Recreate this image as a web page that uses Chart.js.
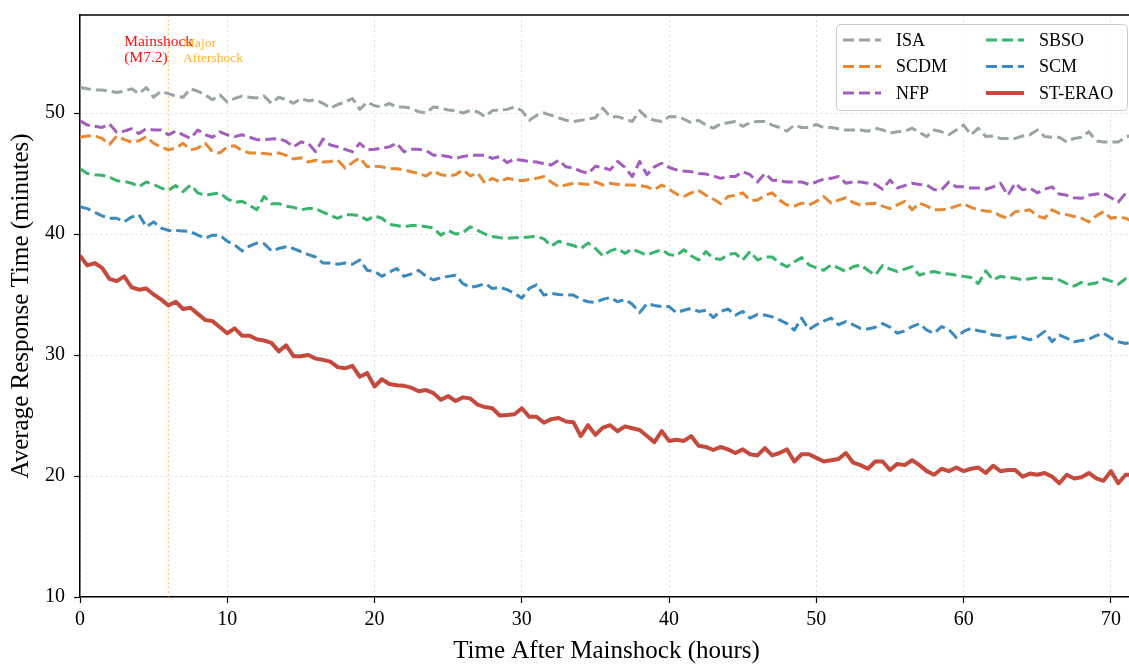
<!DOCTYPE html>
<html>
<head>
<meta charset="utf-8">
<script src="https://cdn.jsdelivr.net/npm/chart.js@4.4.0/dist/chart.umd.min.js"></script>
<style>
  html, body { margin: 0; padding: 0; background: #fff; overflow: hidden; }
  #wrap { width: 1133px; height: 664px; position: relative; }
</style>
</head>
<body>
<div id="wrap"><canvas id="responseChart"></canvas></div>
<script>
// ============================================================
// Average response time after the mainshock, 6 strategies
// ============================================================

const hours = [
  0, 0.5, 1, 1.5, 2, 2.5, 3, 3.5, 4, 4.5, 5, 5.5,
  6, 6.5, 7, 7.5, 8, 8.5, 9, 9.5, 10, 10.5, 11, 11.5,
  12, 12.5, 13, 13.5, 14, 14.5, 15, 15.5, 16, 16.5, 17, 17.5,
  18, 18.5, 19, 19.5, 20, 20.5, 21, 21.5, 22, 22.5, 23, 23.5,
  24, 24.5, 25, 25.5, 26, 26.5, 27, 27.5, 28, 28.5, 29, 29.5,
  30, 30.5, 31, 31.5, 32, 32.5, 33, 33.5, 34, 34.5, 35, 35.5,
  36, 36.5, 37, 37.5, 38, 38.5, 39, 39.5, 40, 40.5, 41, 41.5,
  42, 42.5, 43, 43.5, 44, 44.5, 45, 45.5, 46, 46.5, 47, 47.5,
  48, 48.5, 49, 49.5, 50, 50.5, 51, 51.5, 52, 52.5, 53, 53.5,
  54, 54.5, 55, 55.5, 56, 56.5, 57, 57.5, 58, 58.5, 59, 59.5,
  60, 60.5, 61, 61.5, 62, 62.5, 63, 63.5, 64, 64.5, 65, 65.5,
  66, 66.5, 67, 67.5, 68, 68.5, 69, 69.5, 70, 70.5, 71, 71.5,
];

const isa = [
  52.1, 52.0, 51.9, 51.9, 51.8, 51.7, 51.8, 52.0, 51.6, 52.1,
  51.3, 51.8, 51.6, 51.4, 51.3, 52.0, 51.8, 51.5, 51.1, 51.5,
  50.9, 51.2, 51.4, 51.3, 51.25, 51.4, 50.8, 51.3, 51.1, 50.8,
  51.2, 51.0, 51.1, 50.8, 50.4, 50.7, 50.9, 51.2, 50.3, 50.9,
  50.6, 50.5, 50.8, 50.5, 50.5, 50.4, 50.1, 50.0, 50.5, 50.4,
  50.25, 50.2, 50.0, 50.2, 50.1, 49.7, 50.2, 50.25, 50.3, 50.5,
  50.2, 49.4, 49.8, 50.0, 49.8, 49.6, 49.4, 49.3, 49.4, 49.5,
  49.6, 50.4, 49.7, 49.7, 49.5, 49.3, 50.2, 49.6, 49.4, 49.3,
  49.7, 49.7, 49.5, 49.2, 49.4, 49.0, 48.75, 49.1, 49.2, 49.3,
  48.9, 49.2, 49.3, 49.3, 49.0, 48.8, 48.5, 49.0, 48.8, 48.8,
  49.05, 48.8, 48.8, 48.7, 48.6, 48.6, 48.6, 48.5, 48.75, 48.6,
  48.35, 48.45, 48.5, 48.75, 48.4, 48.05, 48.6, 48.45, 48.2, 48.6,
  49.0, 48.2, 48.75, 48.05, 48.1, 47.9, 47.9, 47.9, 48.1, 48.2,
  48.6, 48.05, 48.0, 48.0, 47.6, 47.9, 48.0, 48.45, 47.7, 47.6,
  47.6, 47.6, 48.0, 48.2,
];

const scdm = [
  48.0, 48.1, 48.1, 47.9, 47.4, 48.1, 47.8, 47.6, 47.7, 48.05,
  47.5, 47.2, 46.95, 47.1, 47.5, 46.95, 47.1, 47.5, 46.8, 46.7,
  47.2, 47.3, 46.9, 46.7, 46.7, 46.65, 46.6, 46.7, 46.5, 46.2,
  46.3, 45.95, 46.1, 45.95, 46.0, 46.1, 45.45, 45.9, 46.3, 45.55,
  45.6, 45.55, 45.4, 45.4, 45.3, 45.15, 45.0, 44.8, 45.2, 44.9,
  44.8, 44.9, 45.3, 44.8, 45.05, 44.2, 44.6, 44.3, 44.6, 44.5,
  44.4, 44.5, 44.6, 44.75, 44.3, 43.9, 44.05, 44.2, 44.15, 44.1,
  44.3, 44.05, 44.2, 44.1, 44.05, 44.05, 44.0, 43.9, 43.65, 44.05,
  43.7, 43.3, 43.1, 43.4, 43.6, 43.2, 42.9, 42.5, 43.1, 43.2,
  43.4, 42.8, 42.8, 43.2, 43.4, 42.8, 42.4, 42.3, 42.55, 42.4,
  42.7, 43.1, 42.55, 42.8, 43.0, 42.6, 42.4, 42.5, 42.55, 42.3,
  42.1, 42.4, 42.7, 42.0, 42.55, 42.3, 42.0, 42.0, 42.1, 42.3,
  42.5, 42.2, 42.0, 41.9, 41.85, 41.5, 41.3, 41.85, 41.9, 42.0,
  41.5, 41.3, 42.0, 41.7, 41.6, 41.45, 41.3, 41.0, 41.5, 41.85,
  41.3, 41.4, 41.3, 41.0,
];

const nfp = [
  49.35, 49.0, 48.9, 48.8, 49.1, 48.4, 48.5, 48.7, 48.3, 48.7,
  48.6, 48.6, 48.2, 48.5, 48.2, 47.9, 48.6, 48.2, 48.0, 48.45,
  48.2, 48.05, 48.2, 48.0, 47.8, 47.8, 47.85, 47.9, 47.65, 47.2,
  47.6, 47.5, 46.8, 47.85, 47.35, 47.2, 47.0, 46.8, 47.5, 46.95,
  47.0, 47.1, 47.2, 47.5, 46.8, 47.0, 47.0, 46.9, 46.5, 46.5,
  46.4, 46.25, 46.4, 46.5, 46.5, 46.5, 46.25, 46.4, 45.9, 46.2,
  46.1, 46.0, 45.95, 45.8, 45.7, 46.1, 45.55, 45.45, 45.2, 45.0,
  45.6, 45.5, 45.3, 46.0, 45.5, 44.75, 46.0, 44.9, 45.55, 45.85,
  45.5, 45.3, 45.2, 45.15, 45.0, 44.95, 44.8, 44.6, 44.75, 44.75,
  45.15, 44.9, 44.3, 45.0, 44.45, 44.4, 44.3, 44.3, 44.3, 44.1,
  44.3, 44.55, 44.6, 44.75, 44.2, 44.3, 44.3, 44.2, 44.1, 43.7,
  44.45, 43.8, 44.0, 44.2, 44.1, 44.05, 43.65, 43.65, 44.3, 43.9,
  43.9, 43.8, 43.8, 43.7, 43.9, 44.2, 43.2, 44.2, 43.65, 43.8,
  43.4, 43.7, 43.9, 43.3, 43.2, 43.0, 42.95, 43.2, 43.3, 43.35,
  43.0, 42.65, 43.35, 43.4,
];

const sbso = [
  45.4, 45.0, 44.9, 44.85, 44.7, 44.4, 44.35, 44.2, 43.9, 44.3,
  44.1, 43.8, 43.6, 44.0, 43.5, 44.05, 43.4, 43.2, 43.3, 43.4,
  42.9, 42.6, 42.7, 42.4, 42.0, 43.1, 42.5, 42.5, 42.3, 42.2,
  42.0, 42.1, 42.1, 41.8, 41.55, 41.3, 41.6, 41.6, 41.5, 41.15,
  41.5, 41.3, 40.8, 40.7, 40.6, 40.7, 40.7, 40.6, 40.5, 39.9,
  40.3, 40.0, 40.1, 40.6, 40.3, 40.0, 39.8, 39.7, 39.65, 39.7,
  39.7, 39.75, 39.8, 39.6, 39.0, 39.4, 39.2, 39.05, 38.8, 39.25,
  38.8, 38.2, 38.6, 38.8, 38.4, 38.75, 38.5, 38.25, 38.5, 38.7,
  38.3, 38.2, 38.7, 38.2, 37.85, 38.55, 38.0, 37.9, 38.3, 38.4,
  37.85, 38.55, 37.85, 38.1, 38.1, 37.6, 37.3, 37.7, 38.05, 37.45,
  37.2, 37.0, 37.45, 37.2, 36.9, 37.3, 37.45, 37.0, 36.6, 37.4,
  37.1, 36.9, 37.1, 37.3, 36.6, 36.8, 36.9, 36.75, 36.7, 36.6,
  36.5, 36.4, 35.9, 36.95, 36.2, 36.5, 36.4, 36.35, 36.2, 36.3,
  36.4, 36.35, 36.3, 36.2, 35.9, 35.7, 36.0, 35.85, 35.95, 36.3,
  36.1, 35.85, 36.3, 36.4,
];

const scm = [
  42.25, 42.1, 41.8, 41.5, 41.3, 41.3, 41.0, 41.4, 41.6, 40.6,
  41.0, 40.5, 40.3, 40.3, 40.25, 40.2, 39.9, 39.65, 39.9, 39.9,
  39.4, 39.1, 38.6, 39.0, 39.25, 39.2, 38.6, 38.8, 38.95, 38.8,
  38.55, 38.3, 38.1, 37.6, 37.6, 37.5, 37.6, 37.5, 37.85, 37.0,
  36.9, 36.5, 36.85, 37.15, 36.5, 36.7, 37.0, 36.5, 36.2, 36.4,
  36.5, 36.6, 35.9, 35.6, 35.7, 35.9, 35.5, 35.6, 35.4, 35.1,
  34.7, 35.5, 35.8, 34.95, 35.1, 35.0, 34.95, 34.95, 34.6, 34.4,
  34.35, 34.6, 34.75, 34.4, 34.6, 34.2, 33.5, 34.25, 34.1, 34.0,
  34.0, 33.5, 33.7, 33.85, 33.6, 33.7, 33.1, 33.6, 33.8, 33.3,
  33.6, 33.05, 33.35, 33.3, 33.15, 32.9, 32.6, 32.05, 33.05, 32.1,
  32.5, 32.8, 33.05, 32.5, 32.75, 32.5, 32.2, 32.15, 32.3, 32.6,
  32.3, 31.8, 32.0, 32.35, 32.6, 32.05, 31.8, 32.35, 32.1, 31.45,
  31.95, 32.2, 32.0, 31.9, 31.65, 31.6, 31.4, 31.5, 31.45, 31.25,
  31.5, 31.95, 31.1, 31.65, 31.4, 31.1, 31.2, 31.3, 31.6, 31.8,
  31.4, 31.1, 30.95, 31.1,
];

const sterao = [
  38.2, 37.4, 37.6, 37.2, 36.3, 36.1, 36.5, 35.6, 35.4, 35.5,
  35.0, 34.6, 34.1, 34.4, 33.8, 33.9, 33.4, 32.9, 32.8, 32.3,
  31.8, 32.2, 31.6, 31.6, 31.3, 31.2, 31.0, 30.3, 30.8, 29.9,
  29.9, 30.0, 29.7, 29.6, 29.45, 29.0, 28.9, 29.1, 28.2, 28.5,
  27.4, 28.0, 27.6, 27.5, 27.45, 27.3, 27.0, 27.1, 26.85, 26.3,
  26.6, 26.2, 26.5, 26.4, 25.9, 25.7, 25.6, 25.0, 25.05, 25.1,
  25.6, 24.9, 24.9, 24.4, 24.7, 24.8, 24.5, 24.45, 23.3, 24.2,
  23.4, 24.0, 24.2, 23.7, 24.1, 23.95, 23.8, 23.3, 22.8, 23.7,
  22.9, 23.0, 22.9, 23.3, 22.5, 22.4, 22.15, 22.4, 22.2, 21.9,
  22.2, 21.8, 21.7, 22.3, 21.7, 21.9, 22.2, 21.2, 21.8, 21.8,
  21.5, 21.2, 21.3, 21.4, 21.9, 21.1, 20.9, 20.6, 21.2, 21.2,
  20.5, 21.0, 20.9, 21.3, 20.9, 20.4, 20.1, 20.6, 20.4, 20.7,
  20.4, 20.6, 20.7, 20.25, 20.85, 20.4, 20.5, 20.5, 19.95, 20.2,
  20.1, 20.25, 19.95, 19.4, 20.1, 19.8, 19.9, 20.25, 19.8, 19.6,
  20.4, 19.4, 20.1, 20.1,
];

const seriesNames = ['ISA', 'SCDM', 'NFP', 'SBSO', 'SCM', 'ST-ERAO'];
const seriesValues = [isa, scdm, nfp, sbso, scm, sterao];
const seriesColors = ['#8f9c9d', '#e67e22', '#9b4fb8', '#27ae60', '#2a80b9', '#c0392b'];

const xTicks = [0, 10, 20, 30, 40, 50, 60, 70];
const yTicks = [10, 20, 30, 40, 50];

// event markers
const aftershockHour = 6;
const notes = [
  { lines: ['Mainshock', '(M7.2)'], x: 3.0, y: 55.9, color: 'rgba(255,0,0,0.95)', size: 15.5, gap: 16 },
  { lines: ['Major', 'Aftershock'], x: 7.0, y: 55.75, color: 'rgba(255,165,0,0.85)', size: 13.5, gap: 15 },
];

const SERIF = "'Liberation Serif', 'Times New Roman', serif";
const DASH = [11, 5];

function hexA(hex, a) {
  const n = parseInt(hex.slice(1), 16);
  return 'rgba(' + (n >> 16) + ',' + ((n >> 8) & 255) + ',' + (n & 255) + ',' + a + ')';
}

const datasets = seriesNames.map((name, i) => {
  const solid = name === 'ST-ERAO';
  return {
    label: name,
    data: hours.map((h, k) => ({ x: h, y: seriesValues[i][k] })),
    borderColor: hexA(seriesColors[i], 0.92),
    borderWidth: solid ? 4 : 3,
    borderDash: solid ? [] : DASH,
    borderCapStyle: 'butt',
    borderJoinStyle: 'round',
    pointRadius: 0,
    tension: 0,
    fill: false,
    order: seriesNames.length - i,
  };
});

// top spine, aftershock marker, text notes and 2-column legend
const decorations = {
  id: 'decorations',
  beforeDatasetsDraw(chart) {
    const { ctx, chartArea: a, scales: { x } } = chart;
    const px = x.getPixelForValue(aftershockHour);
    ctx.save();
    ctx.strokeStyle = 'rgba(255,165,0,0.55)';
    ctx.lineWidth = 1.3;
    ctx.setLineDash([2, 2.5]);
    ctx.beginPath();
    ctx.moveTo(px, a.top);
    ctx.lineTo(px, a.bottom);
    ctx.stroke();
    ctx.restore();
  },
  afterDraw(chart) {
    const { ctx, chartArea: a, scales: { x, y } } = chart;
    ctx.save();

    // top spine
    ctx.strokeStyle = '#000';
    ctx.lineWidth = 1.5;
    ctx.beginPath();
    ctx.moveTo(a.left - 0.75, a.top);
    ctx.lineTo(a.right, a.top);
    ctx.stroke();

    // notes
    ctx.textAlign = 'left';
    ctx.textBaseline = 'middle';
    notes.forEach(n => {
      ctx.fillStyle = n.color;
      ctx.font = n.size + 'px ' + SERIF;
      const px = x.getPixelForValue(n.x);
      const py = y.getPixelForValue(n.y);
      n.lines.forEach((t, i) => ctx.fillText(t, px, py + i * n.gap));
    });

    // legend
    const boxW = 291, boxH = 86;
    const bx = a.right - 6 - boxW;
    const by = a.top + 9;
    ctx.fillStyle = 'rgba(255,255,255,0.85)';
    ctx.strokeStyle = '#cccccc';
    ctx.lineWidth = 1;
    ctx.beginPath();
    ctx.roundRect(bx + 0.5, by + 0.5, boxW, boxH, 4);
    ctx.fill();
    ctx.stroke();

    ctx.font = '18px ' + SERIF;
    ctx.fillStyle = '#000';
    chart.data.datasets.forEach((ds, i) => {
      const col = Math.floor(i / 3);
      const row = i % 3;
      const lx = bx + 7 + col * 143;
      const ly = by + 16 + row * 26.5;
      ctx.save();
      ctx.strokeStyle = ds.borderColor;
      ctx.lineWidth = ds.borderWidth;
      ctx.setLineDash(ds.borderDash);
      ctx.lineCap = 'butt';
      ctx.beginPath();
      ctx.moveTo(lx, ly);
      ctx.lineTo(lx + 38, ly);
      ctx.stroke();
      ctx.restore();
      ctx.fillText(ds.label, lx + 53, ly + 1);
    });

    ctx.restore();
  },
};

new Chart(document.getElementById('responseChart'), {
  type: 'line',
  data: { datasets },
  plugins: [decorations],
  options: {
    responsive: true,
    maintainAspectRatio: false,
    animation: false,
    layout: { padding: { top: 15, right: 0, left: 0, bottom: 0 } },
    plugins: {
      legend: { display: false },
      tooltip: { enabled: false },
    },
    scales: {
      x: {
        type: 'linear',
        min: 0,
        max: 71.5,
        afterBuildTicks: s => { s.ticks = xTicks.map(v => ({ value: v })); },
        afterFit: s => { s.height = 67; s.paddingLeft = 0; s.paddingRight = 0; },
        ticks: {
          color: '#000',
          font: { family: SERIF, size: 20 },
          padding: 5,
          maxRotation: 0,
        },
        grid: {
          color: 'rgba(200,200,200,0.6)',
          lineWidth: 1,
          tickColor: '#000',
          tickLength: 6,
          tickWidth: 1.2,
          tickBorderDash: [],
        },
        border: { display: true, color: '#000', width: 1.5, dash: [2, 3] },
        title: {
          display: true,
          text: 'Time After Mainshock (hours)',
          color: '#000',
          font: { family: SERIF, size: 25, lineHeight: 1 },
          padding: { top: 0, bottom: 0 },
        },
      },
      y: {
        type: 'linear',
        min: 10,
        max: 58.1,
        afterBuildTicks: s => { s.ticks = yTicks.map(v => ({ value: v })); },
        afterFit: s => { s.width = 80; s.paddingTop = 0; s.paddingBottom = 0; },
        ticks: {
          color: '#000',
          font: { family: SERIF, size: 20 },
          padding: 9,
        },
        grid: {
          color: 'rgba(200,200,200,0.6)',
          lineWidth: 1,
          tickColor: '#000',
          tickLength: 6,
          tickWidth: 1.2,
          tickBorderDash: [],
        },
        border: { display: true, color: '#000', width: 1.5, dash: [2, 3] },
        title: {
          display: true,
          text: 'Average Response Time (minutes)',
          color: '#000',
          font: { family: SERIF, size: 25, lineHeight: 1 },
          padding: { top: 9, bottom: 0 },
        },
      },
    },
  },
});
</script>
</body>
</html>
